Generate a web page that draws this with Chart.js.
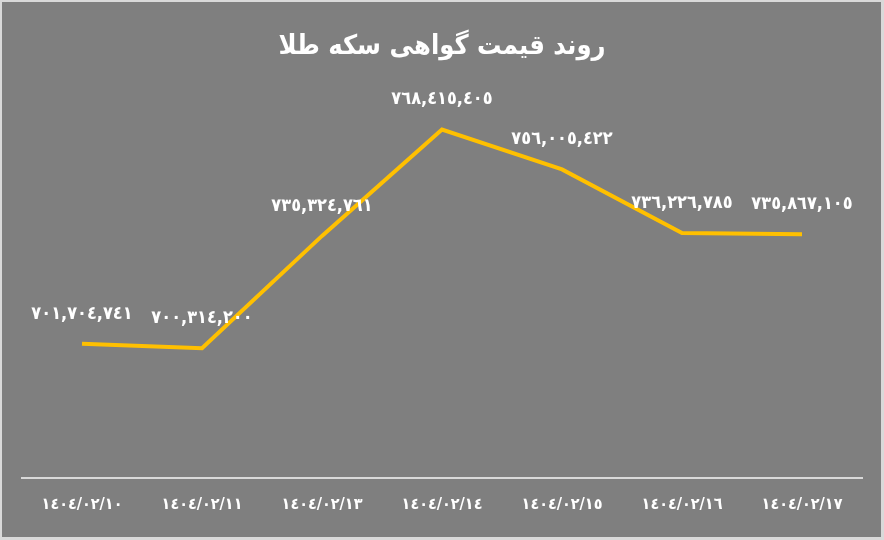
<!DOCTYPE html>
<html>
<head>
<meta charset="utf-8">
<script src="https://cdn.jsdelivr.net/npm/chart.js@4.4.1/dist/chart.umd.min.js"></script>
<style>
  html, body { margin: 0; padding: 0; background: #d9d9d9; }
  #wrap { position: absolute; left: 2px; top: 2px; width: 879px; height: 535px; background: #7f7f7f; }
  canvas { display: block; }
</style>
</head>
<body>
<div id="wrap"><canvas id="goldChart"></canvas></div>
<script>
const dates = ["1404/02/10", "1404/02/11", "1404/02/13", "1404/02/14", "1404/02/15", "1404/02/16", "1404/02/17"];
const prices = [701704741, 700314200, 735324761, 768415405, 756005422, 736226785, 735867105];
const chartTitle = "روند قیمت گواهی سکه طلا";

const FONT = "'DejaVu Sans Condensed', 'DejaVu Sans', sans-serif";

function toArabicDigits(s) {
  return String(s).replace(/[0-9]/g, (d) => String.fromCharCode(0x0660 + Number(d)));
}

function formatPrice(v) {
  return toArabicDigits(v.toString().replace(/\B(?=(\d{3})+(?!\d))/g, ","));
}

const valueLabels = {
  id: "valueLabels",
  afterDatasetsDraw(chart) {
    const ctx = chart.ctx;
    const meta = chart.getDatasetMeta(0);
    ctx.save();
    ctx.fillStyle = "#ffffff";
    ctx.font = "bold 18px " + FONT;
    ctx.textAlign = "center";
    ctx.textBaseline = "middle";
    meta.data.forEach((pt, i) => {
      ctx.fillText(formatPrice(prices[i]), pt.x, pt.y - 30);
    });
    ctx.restore();
  },
};

const ctx = document.getElementById("goldChart").getContext("2d");
new Chart(ctx, {
  type: "line",
  data: {
    labels: dates.map(toArabicDigits),
    datasets: [{
      data: prices.map((p) => p / 1e6),
      borderColor: "#ffc000",
      borderWidth: 4,
      pointRadius: 0,
      tension: 0,
      fill: false,
    }],
  },
  options: {
    responsive: true,
    maintainAspectRatio: false,
    animation: false,
    layout: { padding: { left: 20, right: 19, bottom: 14 } },
    plugins: {
      legend: { display: false },
      tooltip: { enabled: false },
      title: {
        display: true,
        text: chartTitle,
        color: "#ffffff",
        font: { family: FONT, size: 27, weight: "bold" },
        padding: { top: 29, bottom: 29 },
      },
    },
    scales: {
      x: {
        offset: true,
        grid: { display: false },
        border: { display: true, color: "#d9d9d9", width: 2 },
        ticks: {
          color: "#ffffff",
          padding: 9,
          maxRotation: 0,
          font: { family: FONT, size: 16, weight: "bold" },
        },
      },
      y: {
        display: false,
        min: 660,
        max: 780,
      },
    },
  },
  plugins: [valueLabels],
});
</script>
</body>
</html>
